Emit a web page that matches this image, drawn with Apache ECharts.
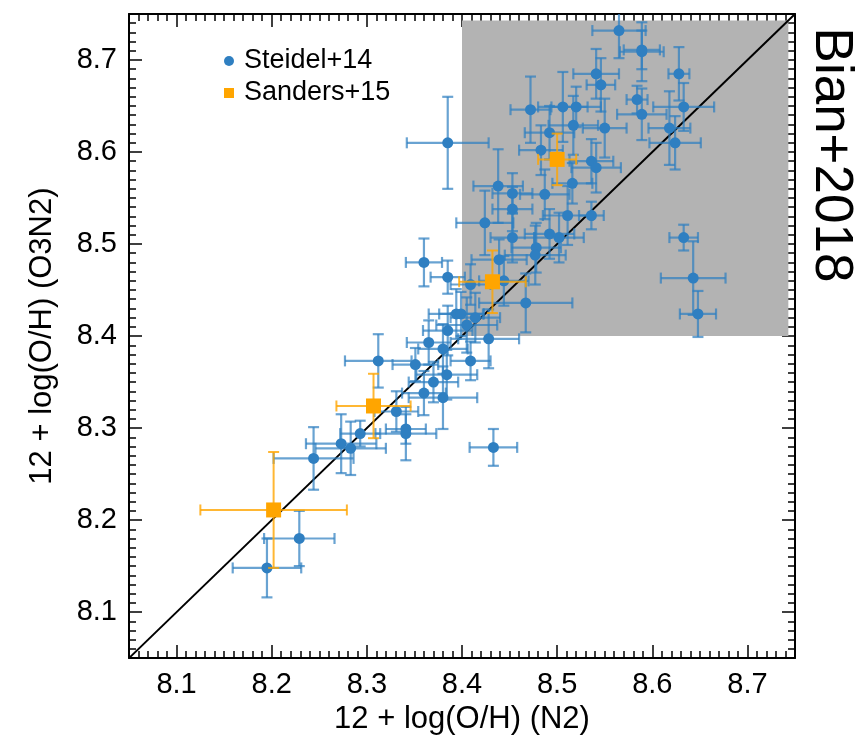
<!DOCTYPE html>
<html>
<head>
<meta charset="utf-8">
<script src="https://cdn.jsdelivr.net/npm/echarts@6/dist/echarts.min.js"></script>
<style>
html,body{margin:0;padding:0;background:#fff;}
#chart{width:865px;height:740px;}
</style>
</head>
<body>
<div id="chart"></div>
<script>
// ---- Data ----
const steidelX = [
  8.195, 8.229, 8.244, 8.273, 8.283, 8.293, 8.331, 8.341, 8.341, 8.312,
  8.351, 8.360, 8.380, 8.370, 8.384, 8.409, 8.380, 8.365, 8.385, 8.405,
  8.414, 8.394, 8.399, 8.428, 8.385, 8.360, 8.409, 8.385, 8.424, 8.438,
  8.453, 8.453, 8.453, 8.478, 8.477, 8.467, 8.492, 8.502, 8.511, 8.487,
  8.516, 8.483, 8.492, 8.444, 8.439, 8.565, 8.589, 8.589, 8.541, 8.546,
  8.584, 8.589, 8.472, 8.506, 8.520, 8.517, 8.550, 8.536, 8.541, 8.618,
  8.628, 8.633, 8.624, 8.536, 8.633, 8.643, 8.648, 8.433
];
const steidelY = [
  8.148, 8.180, 8.267, 8.283, 8.278, 8.294, 8.318, 8.299, 8.294, 8.373,
  8.369, 8.338, 8.333, 8.350, 8.358, 8.373, 8.386, 8.393, 8.406, 8.412,
  8.420, 8.424, 8.424, 8.397, 8.464, 8.480, 8.456, 8.610, 8.523, 8.563,
  8.555, 8.538, 8.507, 8.496, 8.488, 8.436, 8.511, 8.507, 8.531, 8.554,
  8.566, 8.602, 8.621, 8.460, 8.483, 8.732, 8.711, 8.709, 8.685, 8.673,
  8.657, 8.641, 8.646, 8.649, 8.649, 8.629, 8.626, 8.590, 8.583, 8.626,
  8.685, 8.649, 8.610, 8.531, 8.507, 8.463, 8.424, 8.279
];
const steidelXErr = [
  0.036, 0.037, 0.042, 0.037, 0.037, 0.021, 0.023, 0.021, 0.032, 0.035,
  0.024, 0.023, 0.036, 0.026, 0.032, 0.021, 0.026, 0.023, 0.026, 0.032,
  0.026, 0.029, 0.023, 0.032, 0.018, 0.019, 0.021, 0.043, 0.030, 0.026,
  0.021, 0.021, 0.023, 0.026, 0.032, 0.049, 0.026, 0.026, 0.026, 0.026,
  0.021, 0.023, 0.026, 0.026, 0.029, 0.028, 0.019, 0.023, 0.024, 0.015,
  0.011, 0.026, 0.021, 0.026, 0.026, 0.026, 0.023, 0.023, 0.026, 0.022,
  0.011, 0.032, 0.027, 0.013, 0.015, 0.034, 0.019, 0.025
];
const steidelYErr = [
  0.032, 0.030, 0.034, 0.032, 0.029, 0.014, 0.022, 0.016, 0.029, 0.029,
  0.018, 0.024, 0.034, 0.022, 0.027, 0.021, 0.027, 0.024, 0.027, 0.030,
  0.027, 0.027, 0.024, 0.032, 0.018, 0.026, 0.022, 0.050, 0.035, 0.040,
  0.022, 0.024, 0.027, 0.027, 0.032, 0.032, 0.027, 0.027, 0.032, 0.027,
  0.022, 0.027, 0.029, 0.027, 0.022, 0.030, 0.021, 0.032, 0.027, 0.029,
  0.015, 0.028, 0.036, 0.038, 0.022, 0.032, 0.032, 0.024, 0.027, 0.040,
  0.029, 0.026, 0.029, 0.015, 0.014, 0.040, 0.025, 0.020
];

const sandersX = [8.202, 8.307, 8.432, 8.500];
const sandersY = [8.211, 8.324, 8.459, 8.592];
const sandersXErr = [0.077, 0.039, 0.035, 0.020];
const sandersYErr = [0.063, 0.035, 0.034, 0.028];

const axisRange = [8.05, 8.75];
const majorTicks = [8.1, 8.2, 8.3, 8.4, 8.5, 8.6, 8.7];
const grayBox = [8.4, 8.743, 8.4, 8.743]; // x0, x1, y0, y1
const diagLine = [8.05, 8.75];

const seriesNames = ['Steidel+14', 'Sanders+15'];
const titleText = 'Bian+2018';
const xName = '12 + log(O/H) (N2)';
const yName = '12 + log(O/H) (O3N2)';

// ---- Build ----
const minorTicks = [];
for (let i = 0; i <= 70; i++) {
  const v = Math.round(805 + i) / 100;
  if (!majorTicks.some(m => Math.abs(m - v) < 1e-6)) minorTicks.push(v);
}

const FONT = 'Liberation Sans, Arial, Helvetica, sans-serif';
const BLUE = '#2f7fc1';
const BLUE_BAR = 'rgba(47,127,193,0.72)';
const ORANGE = '#ffa500';
const ORANGE_BAR = 'rgba(255,165,0,0.8)';

function zip4(a, b, c, d) { return a.map((v, i) => [v, b[i], c[i], d[i]]); }

function errRender(color, cap, lw) {
  return function (params, api) {
    const x = api.value(0), y = api.value(1), ex = api.value(2), ey = api.value(3);
    const l = api.coord([x - ex, y]);
    const r = api.coord([x + ex, y]);
    const t = api.coord([x, y + ey]);
    const b = api.coord([x, y - ey]);
    const st = { stroke: color, lineWidth: lw };
    const h = cap / 2;
    const mk = (x1, y1, x2, y2) => ({ type: 'line', shape: { x1, y1, x2, y2 }, style: st });
    return {
      type: 'group',
      children: [
        mk(l[0], l[1], r[0], r[1]),
        mk(t[0], t[1], b[0], b[1]),
        mk(l[0], l[1] - h, l[0], l[1] + h),
        mk(r[0], r[1] - h, r[0], r[1] + h),
        mk(t[0] - h, t[1], t[0] + h, t[1]),
        mk(b[0] - h, b[1], b[0] + h, b[1])
      ]
    };
  };
}

const lineStyle = { color: '#000', width: 2 };
const tickStyle = { color: '#000', width: 1.5 };

function axisSet(kind) {
  const pos = kind === 'x' ? ['bottom', 'top'] : ['left', 'right'];
  const base = { type: 'value', min: axisRange[0], max: axisRange[1], splitLine: { show: false } };
  return [
    Object.assign({}, base, {
      position: pos[0],
      axisLine: { show: true, onZero: false, lineStyle },
      axisTick: { show: true, inside: true, length: 13, customValues: majorTicks, lineStyle: tickStyle },
      axisLabel: {
        show: true, customValues: majorTicks, margin: 12,
        formatter: v => v.toFixed(1), fontSize: 29, color: '#000', fontFamily: FONT
      },
      name: kind === 'x' ? xName : yName,
      nameLocation: 'middle',
      nameGap: kind === 'x' ? 45 : 71,
      nameTextStyle: { fontSize: 31, color: '#000', fontFamily: FONT }
    }),
    Object.assign({}, base, {
      position: pos[0],
      axisLine: { show: false, onZero: false },
      axisTick: { show: true, inside: true, length: 7, customValues: minorTicks, lineStyle: tickStyle },
      axisLabel: { show: false }
    }),
    Object.assign({}, base, {
      position: pos[1],
      axisLine: { show: true, onZero: false, lineStyle },
      axisTick: { show: true, inside: true, length: 13, customValues: majorTicks, lineStyle: tickStyle },
      axisLabel: { show: false }
    }),
    Object.assign({}, base, {
      position: pos[1],
      axisLine: { show: false, onZero: false },
      axisTick: { show: true, inside: true, length: 7, customValues: minorTicks, lineStyle: tickStyle },
      axisLabel: { show: false }
    })
  ];
}

const chart = echarts.init(document.getElementById('chart'), null, { renderer: 'canvas' });

const option = {
  backgroundColor: '#fff',
  animation: false,
  grid: { left: 129, right: 70, top: 14, bottom: 80, containLabel: false },
  xAxis: axisSet('x'),
  yAxis: axisSet('y'),
  legend: {
    data: [
      { name: seriesNames[0], icon: 'circle' },
      { name: seriesNames[1], icon: 'rect' }
    ],
    orient: 'vertical',
    left: 219,
    top: 41,
    itemWidth: 10,
    itemHeight: 10,
    itemGap: 2,
    textStyle: { fontSize: 27, color: '#000', fontFamily: FONT, lineHeight: 30, padding: [0, 0, 0, 5] },
    selectedMode: false
  },
  graphic: [{
    type: 'text',
    x: 831,
    y: 155,
    rotation: -Math.PI / 2,
    style: {
      text: titleText,
      fontSize: 53,
      fontFamily: FONT,
      fill: '#000',
      align: 'center',
      verticalAlign: 'middle'
    }
  }],
  series: [
    {
      type: 'custom',
      name: 'region',
      xAxisIndex: 0, yAxisIndex: 0,
      z: 1,
      silent: true,
      clip: true,
      data: [grayBox],
      renderItem: function (params, api) {
        const p0 = api.coord([api.value(0), api.value(3)]);
        const p1 = api.coord([api.value(1), api.value(2)]);
        return { type: 'rect', shape: { x: p0[0], y: p0[1], width: p1[0] - p0[0], height: p1[1] - p0[1] }, style: { fill: '#b3b3b3' } };
      }
    },
    {
      type: 'line',
      name: 'one-to-one',
      xAxisIndex: 0, yAxisIndex: 0,
      z: 2,
      symbol: 'none',
      silent: true,
      lineStyle: { color: '#000', width: 2 },
      data: [[diagLine[0], diagLine[0]], [diagLine[1], diagLine[1]]]
    },
    {
      type: 'custom',
      name: 'steidelErr',
      xAxisIndex: 0, yAxisIndex: 0,
      z: 3,
      clip: true,
      data: zip4(steidelX, steidelY, steidelXErr, steidelYErr),
      renderItem: errRender(BLUE_BAR, 11, 2.2)
    },
    {
      type: 'scatter',
      name: seriesNames[0],
      xAxisIndex: 0, yAxisIndex: 0,
      z: 4,
      symbol: 'circle',
      symbolSize: 11,
      itemStyle: { color: BLUE, opacity: 1 },
      data: steidelX.map((v, i) => [v, steidelY[i]])
    },
    {
      type: 'custom',
      name: 'sandersErr',
      xAxisIndex: 0, yAxisIndex: 0,
      z: 5,
      clip: true,
      data: zip4(sandersX, sandersY, sandersXErr, sandersYErr),
      renderItem: errRender(ORANGE_BAR, 11, 2)
    },
    {
      type: 'scatter',
      name: seriesNames[1],
      xAxisIndex: 0, yAxisIndex: 0,
      z: 6,
      symbol: 'rect',
      symbolSize: 15,
      itemStyle: { color: ORANGE, opacity: 1 },
      data: sandersX.map((v, i) => [v, sandersY[i]])
    }
  ]
};
chart.setOption(option);
</script>
</body>
</html>
